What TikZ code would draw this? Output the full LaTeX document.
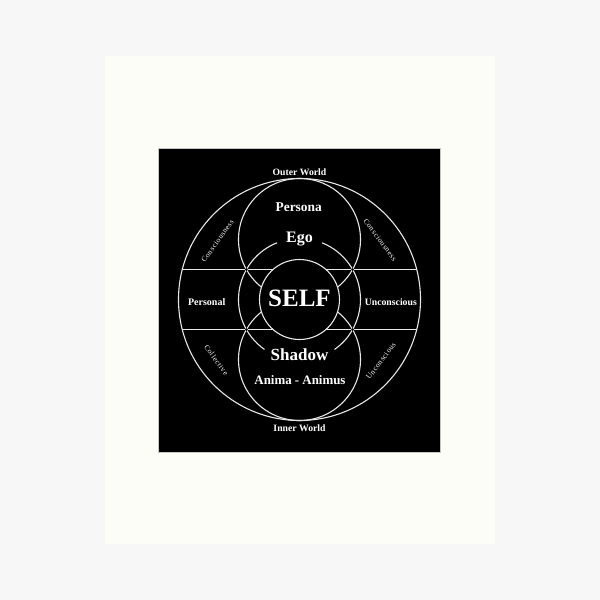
\documentclass[tikz,border=0pt]{standalone}
\usepackage{fontspec}
\setmainfont{Liberation Serif}
\newfontfamily\spacedserif[LetterSpace=7]{Liberation Serif}
\definecolor{bg}{HTML}{F7F7F7}
\definecolor{paper}{HTML}{FDFDF8}
\definecolor{ln}{HTML}{E8E8E8}
\begin{document}
\begin{tikzpicture}[x=1pt,y=1pt,
  ring/.style={draw=ln, line width=1.1pt},
  crossdot/.style={fill=black},
  lbl/.style={text=white, inner sep=0pt},
  smalllbl/.style={text=white, inner sep=0pt, font=\spacedserif\fontsize{7.5}{9}\selectfont}]
\useasboundingbox (-299.5,-300.5) rectangle (300.5,299.5);
\fill[bg] (-299.5,-300.5) rectangle (300.5,299.5);
\fill[paper] (-194.5,-244.5) rectangle (195.5,243.5);
\fill[black] (-141.5,-152.5) rectangle (140.5,151.5);
\draw[gray!45, line width=0.7pt] (-141.5,-152.5) rectangle (140.5,151.5);

% outer circle and chords
\draw[ring] (0,0) circle[radius=121];
\draw[ring] (-117.22,30) -- (117.22,30);
\draw[ring] (-117.22,-30) -- (117.22,-30);
% upper and lower circles
\draw[ring] (0,60) circle[radius=61];
\draw[ring] (0,-60) circle[radius=61];
% middle circle, broken at Ego and Shadow
\draw[ring] (111.6:61) arc[start angle=111.6, end angle=235, radius=61];
\draw[ring] (-55:61) arc[start angle=-55, end angle=68.4, radius=61];
% self circle
\draw[ring, fill=black] (0,0) circle[radius=40];
% crossing dots
\fill[crossdot] (-53.1,30) circle[radius=1.4];
\fill[crossdot] (53.1,30) circle[radius=1.4];
\fill[crossdot] (-53.1,-30) circle[radius=1.4];
\fill[crossdot] (53.1,-30) circle[radius=1.4];

% labels
\node[lbl, font=\bfseries\fontsize{25}{28}\selectfont] (self) at (0,1) {SELF};
\node[lbl, font=\bfseries\fontsize{9.7}{11}\selectfont] (outer) at (0,127) {Outer World};
\node[lbl, font=\bfseries\fontsize{9.7}{11}\selectfont] (inner) at (0,-128.8) {Inner World};
\node[lbl, font=\bfseries\fontsize{13.4}{15}\selectfont] (persona) at (-0.8,92.8) {Persona};
\node[lbl, font=\bfseries\fontsize{16}{18}\selectfont] (ego) at (0,60) {Ego};
\node[lbl, font=\bfseries\fontsize{17}{19}\selectfont] (shadow) at (0,-55.5) {Shadow};
\node[lbl, font=\bfseries\fontsize{12.9}{15}\selectfont] (anima) at (0.5,-81) {Anima - Animus};
\node[lbl, font=\bfseries\fontsize{10}{12}\selectfont] (personal) at (-92.8,-2.8) {Personal};
\node[lbl, font=\bfseries\fontsize{9.75}{12}\selectfont] (uncR) at (91.3,-2.5) {Unconscious};
\node[smalllbl, rotate=54.5] (consL) at (144.5:100.7) {Consciousness};
\node[smalllbl, rotate=-53.5] (consR) at (36.5:100.3) {Consciousness};
\node[smalllbl, rotate=-54] (coll) at (216:102.8) {Collective};
\node[smalllbl, rotate=53] (uncB) at (-37:102) {Unconscious};
\end{tikzpicture}
\end{document}
